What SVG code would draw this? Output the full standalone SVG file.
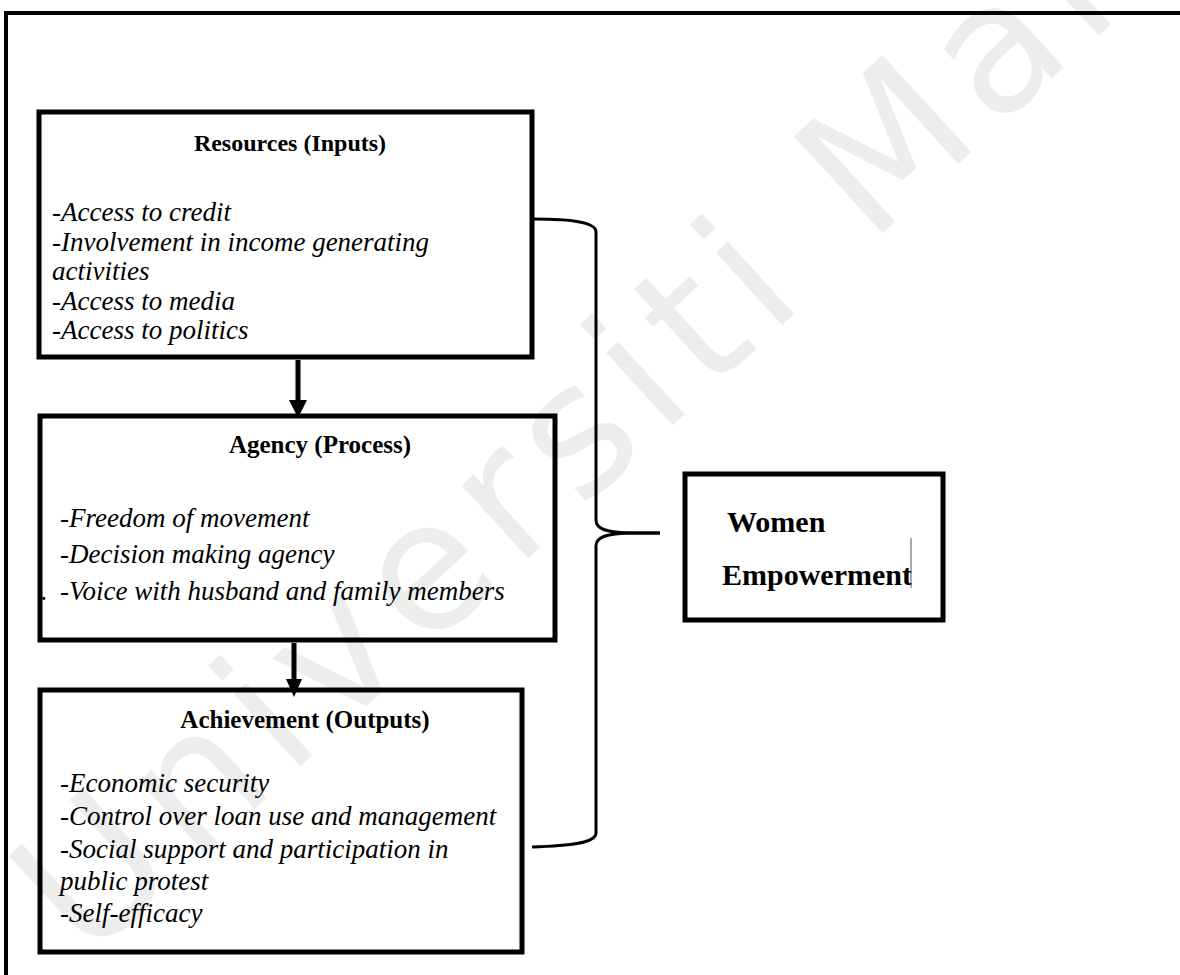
<svg xmlns="http://www.w3.org/2000/svg" width="1180" height="975" viewBox="0 0 1180 975">
<defs>
<style>
.box{fill:none;stroke:#000;stroke-width:5}
.ttl{font-family:"Liberation Serif","Times New Roman",serif;font-weight:bold;font-size:25px;fill:#000}
.itm{font-family:"Liberation Serif","Times New Roman",serif;font-style:italic;font-size:27px;fill:#000}
.we{font-family:"Liberation Serif","Times New Roman",serif;font-weight:bold;font-size:30px;fill:#000}
.wm{font-family:"DejaVu Sans",Verdana,sans-serif;font-size:180px;letter-spacing:14px;fill:#ededed}
.conn{fill:none;stroke:#000}
</style>
</defs>
<rect width="1180" height="975" fill="#fff"/>
<text class="wm" transform="translate(86,963) rotate(-42.5)">Universiti Malaya</text>
<g id="frame">
<line x1="4" y1="13" x2="1180" y2="13" stroke="#000" stroke-width="4"/>
<line x1="6" y1="11" x2="6" y2="975" stroke="#000" stroke-width="4"/>
</g>
<g id="resources">
<rect class="box" x="39" y="112" width="493" height="245"/>
<text class="ttl" x="290" y="151" text-anchor="middle" style="font-size:24px">Resources (Inputs)</text>
<text class="itm" x="52" y="221">-Access to credit</text>
<text class="itm" x="52" y="251">-Involvement in income generating</text>
<text class="itm" x="52" y="280">activities</text>
<text class="itm" x="52" y="310">-Access to media</text>
<text class="itm" x="52" y="339">-Access to politics</text>
</g>
<g id="agency">
<rect class="box" x="40" y="416" width="515" height="224"/>
<text class="ttl" x="320" y="453" text-anchor="middle">Agency (Process)</text>
<text class="itm" x="60" y="527">-Freedom of movement</text>
<text class="itm" x="60" y="563">-Decision making agency</text>
<text class="itm" x="41" y="600">.</text>
<text class="itm" x="60" y="600">-Voice with husband and family members</text>
</g>
<g id="achievement">
<rect class="box" x="40" y="690" width="482" height="262"/>
<text class="ttl" x="305" y="728" text-anchor="middle">Achievement (Outputs)</text>
<text class="itm" x="60" y="792">-Economic security</text>
<text class="itm" x="60" y="825">-Control over loan use and management</text>
<text class="itm" x="60" y="858">-Social support and participation in</text>
<text class="itm" x="60" y="890">public protest</text>
<text class="itm" x="60" y="922">-Self-efficacy</text>
</g>
<g id="women-empowerment">
<rect class="box" x="685" y="474" width="258" height="146"/>
<text class="we" x="727" y="532">Women</text>
<text class="we" x="722" y="585">Empowerment</text>
<line x1="911" y1="538" x2="911" y2="588" stroke="#555" stroke-width="1"/>
</g>
<g id="connectors">
<line class="conn" x1="298" y1="360" x2="298" y2="402" stroke-width="5"/>
<polygon points="289,400 307,400 298,418" fill="#000"/>
<line class="conn" x1="294" y1="643" x2="294" y2="681" stroke-width="5"/>
<polygon points="286,679 302,679 294,697" fill="#000"/>
<path class="conn" stroke-width="3" d="M534 219 C570 219 596 222 596 232 L596 520 C596 529 606 532 628 533 L660 533"/>
<path class="conn" stroke-width="3" d="M660 533 L628 533 C606 534 596 537 596 546 L596 833 C596 843 570 846 532 847"/>
</g>
</svg>
